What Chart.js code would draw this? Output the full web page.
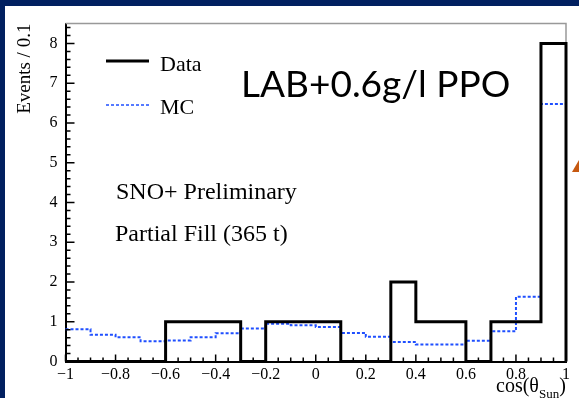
<!DOCTYPE html>
<html>
<head>
<meta charset="utf-8">
<script src="https://cdn.jsdelivr.net/npm/chart.js@4/dist/chart.umd.min.js"></script>
<style>
  html, body { margin: 0; padding: 0; }
  body { width: 579px; height: 398px; background: #012060; position: relative; overflow: hidden; }
  #panel { position: absolute; left: 5px; top: 6px; width: 574px; height: 392px; background: #fff; }
  #cosChart { display: block; }
</style>
</head>
<body>
<div id="panel"><canvas id="cosChart" width="574" height="392"></canvas></div>
<script>
// Histogram bin edges in cos(theta_Sun), 0.1 wide
const binEdges = [-1, -0.9, -0.8, -0.7, -0.6, -0.5, -0.4, -0.3, -0.2, -0.1, 0,
                  0.1, 0.2, 0.3, 0.4, 0.5, 0.6, 0.7, 0.8, 0.9, 1];
// Events per bin
const dataCounts = [0, 0, 0, 0, 1, 1, 1, 0, 1, 1, 1, 0, 0, 2, 1, 1, 0, 1, 1, 8];
const mcCounts = [0.81, 0.67, 0.61, 0.51, 0.53, 0.61, 0.71, 0.83, 0.95, 0.91,
                  0.87, 0.72, 0.62, 0.49, 0.43, 0.43, 0.52, 0.76, 1.63, 6.48];
// Axis ticks
const xTicks = [-1, -0.8, -0.6, -0.4, -0.2, 0, 0.2, 0.4, 0.6, 0.8, 1];
const yTicks = [0, 1, 2, 3, 4, 5, 6, 7, 8];

const serif = "'Liberation Serif', 'Times New Roman', serif";

// turn bin contents into step points (left edge + closing point)
function histPoints(counts, dropToZero) {
    const pts = counts.map((c, i) => ({ x: binEdges[i], y: c }));
    pts.push({ x: binEdges[binEdges.length - 1], y: counts[counts.length - 1] });
    if (dropToZero) pts.push({ x: binEdges[binEdges.length - 1], y: 0 });
    return pts;
}

function fmtTick(v) {
    const r = Math.round(v * 10) / 10;
    return r < 0 ? '\u2212' + String(-r) : String(r);
}

// frame, inward ticks, legend and labels (ROOT style)
const rootStyle = {
    id: 'rootStyle',
    beforeDatasetsDraw(chart) {
        const { ctx, chartArea: a } = chart;
        ctx.save();
        ctx.strokeStyle = '#999';
        ctx.lineWidth = 1.5;
        ctx.beginPath();
        ctx.moveTo(a.left, a.top);
        ctx.lineTo(a.right, a.top);
        ctx.lineTo(a.right, a.bottom);
        ctx.stroke();
        ctx.restore();
    },
    afterDraw(chart) {
        const { ctx, chartArea: a, scales } = chart;
        const xs = scales.x, ys = scales.y;
        ctx.save();
        ctx.strokeStyle = '#000';
        ctx.lineWidth = 1.5;
        ctx.beginPath();
        // y ticks: major every 1, minor every 0.2
        for (let k = 0; k <= 42; k++) {
            const v = k / 5;
            const py = ys.getPixelForValue(v);
            const len = k % 5 === 0 ? 9 : 5;
            ctx.moveTo(a.left, py);
            ctx.lineTo(a.left + len, py);
        }
        // x ticks: major every 0.2, minor every 0.05
        for (let k = 0; k <= 40; k++) {
            const v = -1 + k / 20;
            const px = xs.getPixelForValue(v);
            const len = k % 4 === 0 ? 7 : 4;
            ctx.moveTo(px, a.bottom);
            ctx.lineTo(px, a.bottom - len);
        }
        ctx.stroke();

        // legend
        ctx.lineWidth = 3;
        ctx.beginPath();
        ctx.moveTo(101, 55);
        ctx.lineTo(144, 55);
        ctx.stroke();
        ctx.strokeStyle = '#1f4fff';
        ctx.lineWidth = 1.5;
        ctx.setLineDash([3, 2]);
        ctx.beginPath();
        ctx.moveTo(101, 99);
        ctx.lineTo(144, 99);
        ctx.stroke();
        ctx.setLineDash([]);

        ctx.fillStyle = '#000';
        ctx.textBaseline = 'alphabetic';
        ctx.textAlign = 'left';
        ctx.font = '22px ' + serif;
        ctx.fillText('Data', 155, 65);
        ctx.fillText('MC', 155, 108);

        ctx.font = '24px ' + serif;
        ctx.fillText('SNO+ Preliminary', 111, 193);
        ctx.fillText('Partial Fill (365 t)', 110, 235);

        ctx.font = "37px Lato, 'Open Sans', sans-serif";
        ctx.fillText('LAB+0.6g/l PPO', 236, 91);

        // x axis title cos(θ_Sun)
        ctx.font = '20px ' + serif;
        let x = 491;
        ctx.fillText('cos(\u03b8', x, 386);
        x += ctx.measureText('cos(\u03b8').width;
        ctx.font = '13px ' + serif;
        ctx.fillText('Sun', x, 392);
        x += ctx.measureText('Sun').width;
        ctx.font = '20px ' + serif;
        ctx.fillText(')', x, 386);

        // orange arrow tip at the right edge
        ctx.fillStyle = '#c65911';
        ctx.beginPath();
        ctx.moveTo(567, 166);
        ctx.lineTo(574, 154);
        ctx.lineTo(574, 166);
        ctx.closePath();
        ctx.fill();
        ctx.restore();
    }
};

const ctx = document.getElementById('cosChart').getContext('2d');
const cosChart = new Chart(ctx, {
    type: 'line',
    data: {
        datasets: [{
            label: 'Data',
            data: histPoints(dataCounts, true),
            borderColor: '#000',
            borderWidth: 3,
            stepped: 'before',
            pointRadius: 0,
            fill: false,
            clip: 6
        }, {
            label: 'MC',
            data: histPoints(mcCounts, false),
            borderColor: '#1f4fff',
            borderWidth: 2,
            borderDash: [3, 2],
            stepped: 'before',
            pointRadius: 0,
            fill: false,
            clip: 6
        }]
    },
    options: {
        responsive: false,
        animation: false,
        devicePixelRatio: 1,
        layout: { padding: { top: 13, right: 13, left: 0, bottom: 0 } },
        plugins: {
            legend: { display: false },
            tooltip: { enabled: false }
        },
        scales: {
            x: {
                type: 'linear',
                min: -1,
                max: 1,
                afterBuildTicks: s => { s.ticks = xTicks.map(v => ({ value: v })); },
                afterFit: s => { s.height = 36.5; },
                grid: { display: false, drawTicks: false },
                border: { display: true, color: '#000', width: 2 },
                ticks: {
                    padding: 4,
                    color: '#000',
                    maxRotation: 0,
                    autoSkip: false,
                    font: { family: serif, size: 16 },
                    callback: v => fmtTick(v)
                }
            },
            y: {
                type: 'linear',
                min: 0,
                max: 8.5,
                afterBuildTicks: s => { s.ticks = yTicks.map(v => ({ value: v })); },
                afterFit: s => { s.width = 60.5; },
                grid: { display: false, drawTicks: false },
                border: { display: true, color: '#000', width: 2 },
                title: {
                    display: true,
                    text: 'Events / 0.1',
                    align: 'end',
                    color: '#000',
                    font: { family: serif, size: 19 },
                    padding: { top: 9, bottom: 0 }
                },
                ticks: {
                    padding: 8,
                    color: '#000',
                    autoSkip: false,
                    font: { family: serif, size: 16 },
                    callback: v => String(v)
                }
            }
        }
    },
    plugins: [rootStyle]
});
</script>
</body>
</html>
